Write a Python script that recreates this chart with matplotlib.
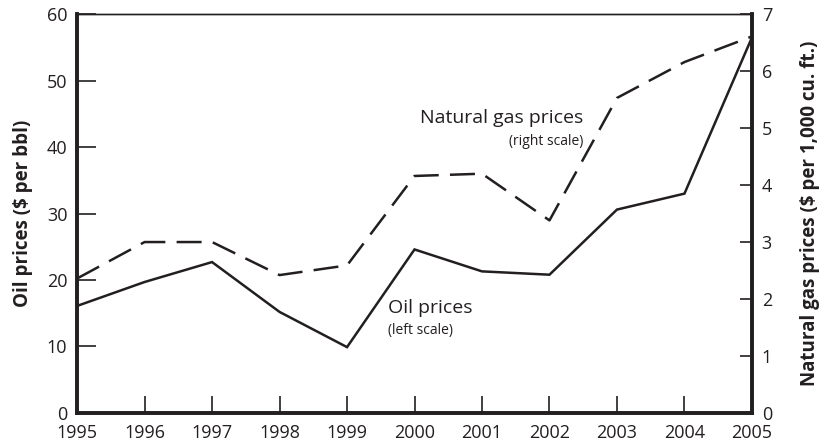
import matplotlib.pyplot as plt
import numpy as np

plt.rcParams['font.family'] = ['Open Sans', 'DejaVu Sans']

years = [1995, 1996, 1997, 1998, 1999, 2000, 2001, 2002, 2003, 2004, 2005]
oil_prices = [16.1, 19.7, 22.7, 15.2, 9.9, 24.6, 21.3, 20.8, 30.6, 33.0, 56.5]
gas_prices = [2.36, 3.0, 3.0, 2.42, 2.59, 4.16, 4.2, 3.38, 5.53, 6.16, 6.61]

ink = '#231f20'

fig = plt.figure(figsize=(8.2, 4.44), dpi=100)
ax = fig.add_axes([0.094, 0.070, 0.823, 0.898])
ax2 = ax.twinx()

ax.plot(years, oil_prices, color=ink, lw=1.8, solid_joinstyle='miter')
ax2.plot(years, gas_prices, color=ink, lw=1.8, dashes=(10, 4.5))

ax.set_xlim(1995, 2005)
ax.set_ylim(0, 60)
ax2.set_ylim(0, 7)
ax.set_xticks(years)
ax.set_yticks(np.arange(0, 61, 10))
ax2.set_yticks(np.arange(0, 8, 1))

ax.tick_params(axis='y', direction='in', length=14, width=1.2, labelsize=13, pad=7, color=ink, labelcolor=ink)
ax.tick_params(axis='x', direction='in', length=12, width=1.2, labelsize=13, pad=8, color=ink, labelcolor=ink)
ax2.tick_params(axis='y', direction='in', length=9, width=1.2, labelsize=13, pad=7, color=ink, labelcolor=ink)

for a in (ax, ax2):
    for side in ('left', 'bottom', 'right'):
        a.spines[side].set_linewidth(2.6)
        a.spines[side].set_color(ink)
    a.spines['top'].set_linewidth(1.0)
    a.spines['top'].set_color(ink)

ax.set_ylabel('Oil prices ($ per bbl)', fontsize=13.5, fontweight='bold', labelpad=10, color=ink)
ax2.set_ylabel('Natural gas prices ($ per 1,000 cu. ft.)', fontsize=13.5, fontweight='bold', labelpad=20, color=ink)

ax2.text(2002.5, 5.17, 'Natural gas prices', fontsize=14, ha='right', va='center', color=ink)
ax2.text(2002.5, 4.77, '(right scale)', fontsize=10, ha='right', va='center', color=ink)
ax.text(1999.6, 15.8, 'Oil prices', fontsize=14, ha='left', va='center', color=ink)
ax.text(1999.6, 12.4, '(left scale)', fontsize=10, ha='left', va='center', color=ink)

fig.savefig('out.png', dpi=100)
